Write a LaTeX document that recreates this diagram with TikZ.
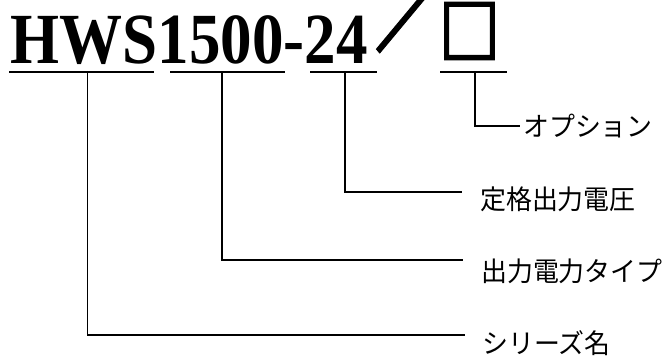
\documentclass[tikz,border=0pt]{standalone}
\usepackage{fontspec}
\newfontfamily\titlefont[FakeStretch=0.875]{Liberation Serif}
\newfontfamily\cjktitle[FakeStretch=0.86,FakeBold=4]{Noto Sans CJK JP}
\newfontfamily\cjkslash[FakeBold=1]{Noto Sans CJK JP}
\newfontfamily\cjk[FakeStretch=0.96]{Noto Sans CJK JP}
\begin{document}
\begin{tikzpicture}[x=1pt,y=-1pt,
  under/.style={line width=1.8pt},
  conn/.style={line width=1.4pt},
  lbl/.style={anchor=west,inner sep=0pt,font=\cjk\fontsize{27}{27}\selectfont}]
\useasboundingbox (0,0) rectangle (664,356);
\fill[white] (0,0) rectangle (664,356);
% title
\node[anchor=base west,inner sep=0pt,font=\titlefont\bfseries\fontsize{72}{72}\selectfont] (title) at (10.5,63) {HWS1500-24};
\node[anchor=base,inner sep=0pt,text height=40pt,text depth=8pt,font=\cjkslash\fontsize{105}{105}\selectfont] (slash) at (425.5,42) {\scalebox{1}[1.2]{／}};
\node[anchor=base,inner sep=0pt,text height=46pt,text depth=1pt,font=\cjktitle\fontsize{70}{70}\selectfont] (box) at (469.5,57.5) {□};
% underlines
\coordinate (u1a) at (9,72); \coordinate (u1b) at (154,72);
\coordinate (u2a) at (170,72); \coordinate (u2b) at (285,72);
\coordinate (u3a) at (310,72); \coordinate (u3b) at (377,72);
\coordinate (u4a) at (440,72); \coordinate (u4b) at (507,72);
\draw[under] (u1a) -- (u1b);
\draw[under] (u2a) -- (u2b);
\draw[under] (u3a) -- (u3b);
\draw[under] (u4a) -- (u4b);
% labels
\node[lbl] (opt) at (523,126) {オプション};
\node[lbl] (volt) at (480,199) {定格出力電圧};
\node[lbl] (pow) at (481,271) {出力電力タイプ};
\node[lbl] (ser) at (482,343) {シリーズ名};
% connectors
\coordinate (s4) at (475,72); \coordinate (e4) at (520,126);
\coordinate (s3) at (345,72); \coordinate (e3) at (462,192);
\coordinate (s2) at (222,72); \coordinate (e2) at (463,260);
\coordinate (s1) at (87.5,72); \coordinate (e1) at (465,335);
\draw[conn] (s4) |- (e4);
\draw[conn] (s3) |- (e3);
\draw[conn] (s2) |- (e2);
\draw[conn] (s1) |- (e1);
\end{tikzpicture}
\end{document}
